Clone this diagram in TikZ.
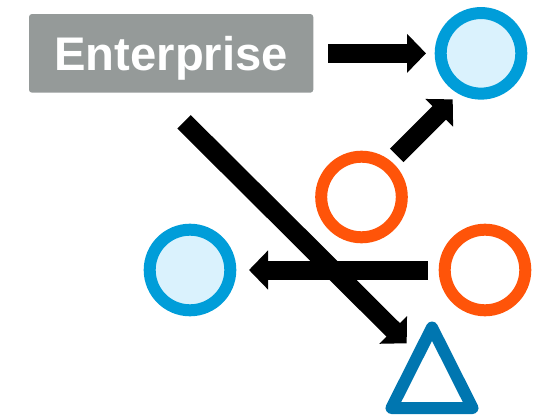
\documentclass[tikz,border=0pt]{standalone}
\usepackage{fontspec}
\setmainfont{Liberation Sans}
\usetikzlibrary{arrows.meta}
\definecolor{boxgrey}{HTML}{959A99}
\definecolor{ringblue}{HTML}{009DD9}
\definecolor{ringfill}{HTML}{DAF2FD}
\definecolor{ringorange}{HTML}{FF5409}
\definecolor{triblue}{HTML}{0076B0}
\tikzset{
  titlebox/.style={fill=boxgrey,rounded corners=3pt,minimum width=284.3pt,minimum height=78.7pt,inner sep=0pt,outer sep=0pt,text=white,text height=34.7pt,text depth=0pt,font=\fontsize{47.2}{47.2}\selectfont\bfseries},
  bluering/.style={circle,draw=ringblue,fill=ringfill,line width=12pt,minimum size=80.6pt,inner sep=0pt},
  orangering/.style={circle,draw=ringorange,fill=white,line width=12pt,minimum size=80.6pt,inner sep=0pt},
  triline/.style={draw=triblue,line width=12pt,line join=round},
  conn/.style={draw=black,line width=19pt,-{Triangle[length=19pt,width=38pt]}}
}
\begin{document}
\begin{tikzpicture}[x=1pt,y=-1pt]
\useasboundingbox (0,0) rectangle (539,415);
\node[titlebox] (ent) at (171.15,53.35) {Enterprise};
\node[bluering] (blueA) at (481,53.35) {};
\node[orangering] (orangeA) at (361.5,197) {};
\node[orangering] (orangeB) at (485,270) {};
\node[bluering] (blueB) at (190,270) {};
\coordinate (tri) at (432,408);
\path[triline] (391.5,408) -- (432,327.5) -- (472.5,408) -- cycle;
\draw[conn] ([shift={(14.7,0)}]ent.east) -- ([shift={(-8.7,0)}]blueA.west);
\draw[conn] ([shift={(35.2,-41.6)}]orangeA.center) -- ([shift={(-28.3,46)}]blueA.center);
\draw[conn] ([shift={(-11,0)}]orangeB.west) -- ([shift={(12.7,0)}]blueB.east);
\draw[conn] ([shift={(12.85,29.1)}]ent.south) -- ([shift={(-25.3,-64.7)}]tri);
\end{tikzpicture}
\end{document}
